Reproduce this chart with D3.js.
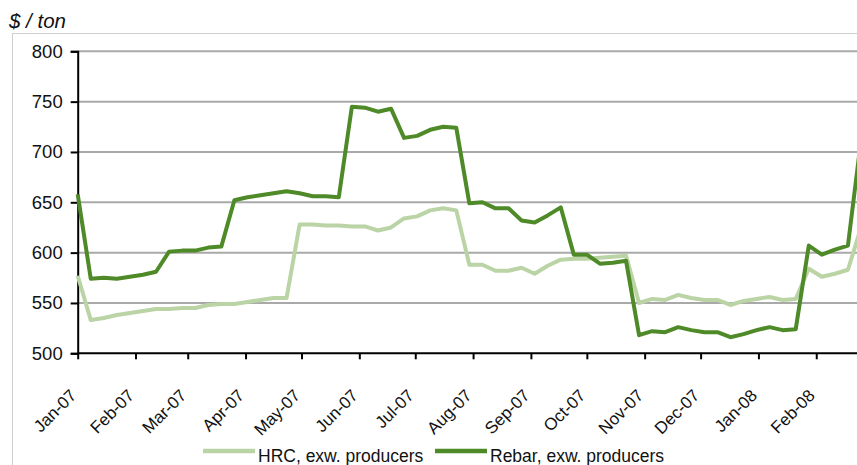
<!DOCTYPE html>
<html>
<head>
<meta charset="utf-8">
<script src="https://cdnjs.cloudflare.com/ajax/libs/d3/7.8.5/d3.min.js"></script>
<style>
  html, body { margin: 0; padding: 0; background: #fff; }
  svg { display: block; font-family: "Liberation Sans", Arial, sans-serif; }
</style>
</head>
<body>
<svg id="chart" width="857" height="465"></svg>
<script>
// ---- data ----
const weeks = [
  "2007-01-01","2007-01-08","2007-01-15","2007-01-22","2007-01-29","2007-02-05","2007-02-12","2007-02-19","2007-02-26",
  "2007-03-05","2007-03-12","2007-03-19","2007-03-26","2007-04-02","2007-04-09","2007-04-16","2007-04-23","2007-04-30",
  "2007-05-07","2007-05-14","2007-05-21","2007-05-28","2007-06-04","2007-06-11","2007-06-18","2007-06-25","2007-07-02",
  "2007-07-09","2007-07-16","2007-07-23","2007-07-30","2007-08-06","2007-08-13","2007-08-20","2007-08-27","2007-09-03",
  "2007-09-10","2007-09-17","2007-09-24","2007-10-01","2007-10-08","2007-10-15","2007-10-22","2007-10-29","2007-11-05",
  "2007-11-12","2007-11-19","2007-11-26","2007-12-03","2007-12-10","2007-12-17","2007-12-24","2007-12-31","2008-01-07",
  "2008-01-14","2008-01-21","2008-01-28","2008-02-04","2008-02-11","2008-02-18","2008-02-25"
];
const hrc = [
  577,533,535,538,540,542,544,544,545,545,548,549,549,551,553,555,555,628,628,627,
  627,626,626,622,625,634,636,642,644,642,588,588,582,582,585,579,587,593,594,594,
  595,596,597,550,554,553,558,555,553,553,548,552,554,556,553,554,584,576,579,583,625
];
const rebar = [
  658,574,575,574,576,578,581,601,602,602,605,606,652,655,657,659,661,659,656,656,
  655,745,744,740,743,714,716,722,725,724,649,650,644,644,632,630,637,645,598,598,
  589,590,592,518,522,521,526,523,521,521,516,519,523,526,523,524,607,598,603,607,712
];
const seriesNames = ["HRC, exw. producers", "Rebar, exw. producers"];
const seriesColors = ["#bad4a6", "#4e8a28"];
const monthTicks = ["2007-01-01","2007-02-01","2007-03-01","2007-04-01","2007-05-01","2007-06-01","2007-07-01",
  "2007-08-01","2007-09-01","2007-10-01","2007-11-01","2007-12-01","2008-01-01","2008-02-01"];
const monthLabels = ["Jan-07","Feb-07","Mar-07","Apr-07","May-07","Jun-07","Jul-07",
  "Aug-07","Sep-07","Oct-07","Nov-07","Dec-07","Jan-08","Feb-08"];
const yTicks = [500, 550, 600, 650, 700, 750, 800];
const yTitle = "$ / ton";

// ---- layout ----
const svg = d3.select("#chart");
const plotLeft = 77.7, plotBottom = 353.3, plotTop = 51.3;
const parse = d3.utcParse("%Y-%m-%d");
const x = d3.scaleUtc()
  .domain([parse("2007-01-01"), parse("2008-03-01")])
  .range([plotLeft, plotLeft + 425 * 1.865]);
const y = d3.scaleLinear().domain([500, 800]).range([plotBottom, plotTop]);

// chart border
svg.append("rect").attr("x", 12.5).attr("y", 33.5).attr("width", 900).attr("height", 500)
  .attr("fill", "none").attr("stroke", "#cfcfcf").attr("stroke-width", 1);

// title
svg.append("text").attr("x", 9).attr("y", 28).attr("font-size", 20.5).attr("font-style", "italic")
  .attr("fill", "#111").text(yTitle);

// gridlines
svg.append("g").selectAll("line").data(yTicks.filter(d => d > 500)).join("line")
  .attr("x1", plotLeft).attr("x2", 900)
  .attr("y1", d => y(d)).attr("y2", d => y(d))
  .attr("stroke", "#a9a9a9").attr("stroke-width", 2);

// y axis
const yAxis = svg.append("g").attr("transform", `translate(${plotLeft},0)`)
  .call(d3.axisLeft(y).tickValues(yTicks).tickSize(7).tickPadding(8));
yAxis.select(".domain").attr("stroke", "#000").attr("stroke-width", 2);
yAxis.selectAll(".tick line").attr("stroke", "#000").attr("stroke-width", 2);
yAxis.selectAll(".tick text").attr("font-size", 18.5).attr("fill", "#111")
  .attr("font-family", "'Liberation Sans', Arial, sans-serif");

// x axis
const xAxis = svg.append("g").attr("transform", `translate(0,${plotBottom})`)
  .call(d3.axisBottom(x).tickValues(monthTicks.map(parse)).tickSize(6)
    .tickFormat((d, i) => monthLabels[i]));
xAxis.select(".domain").attr("stroke", "#000").attr("stroke-width", 2)
  .attr("d", `M${plotLeft},0H900`);
xAxis.selectAll(".tick line").attr("stroke", "#000").attr("stroke-width", 2);
xAxis.selectAll(".tick text")
  .attr("font-size", 17).attr("fill", "#111")
  .attr("font-family", "'Liberation Sans', Arial, sans-serif")
  .attr("text-anchor", "end")
  .attr("dy", "0.35em")
  .attr("transform", "translate(-5,39) rotate(-45)")
  .attr("y", 0).attr("x", 0);

// lines
const line = d3.line().x((d, i) => x(parse(weeks[i]))).y(d => y(d));
[hrc, rebar].forEach((s, k) => {
  svg.append("path").datum(s).attr("d", line)
    .attr("fill", "none").attr("stroke", seriesColors[k])
    .attr("stroke-width", 4).attr("stroke-linejoin", "round");
});

// legend
const legendX = [203, 435];
const lg = svg.append("g");
seriesNames.forEach((name, k) => {
  lg.append("line").attr("x1", legendX[k]).attr("x2", legendX[k] + 52)
    .attr("y1", 451).attr("y2", 451)
    .attr("stroke", seriesColors[k]).attr("stroke-width", 4.5);
  lg.append("text").attr("x", legendX[k] + 55).attr("y", 461.5)
    .attr("font-size", 17.5).attr("fill", "#111").text(name);
});
</script>
</body>
</html>
